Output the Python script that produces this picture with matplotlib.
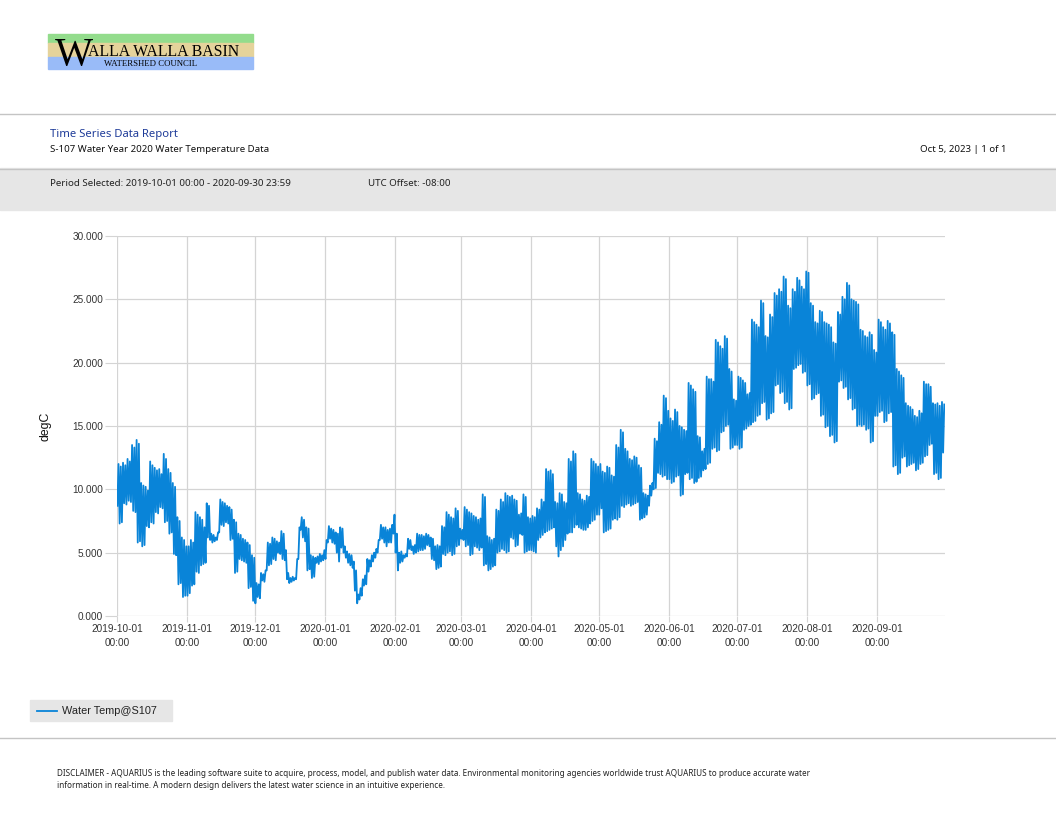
import numpy as np
import pandas as pd
import matplotlib
matplotlib.use("Agg")
import matplotlib.pyplot as plt
import matplotlib.dates as mdates
from matplotlib.patches import Rectangle
from matplotlib.lines import Line2D

# daily (morning low, afternoon high) water temperature, degC
oct_19 = [(8.7, 12.0), (7.3, 11.8), (7.4, 12.1), (8.9, 11.9), (8.8, 12.4), (9.1, 12.2),
          (9.0, 13.5), (8.3, 13.3), (8.2, 13.9), (5.8, 13.6), (5.9, 10.5), (5.5, 10.3),
          (5.6, 10.2), (7.1, 9.9), (7.0, 12.2), (7.4, 11.9), (7.3, 11.7), (8.2, 11.5),
          (8.1, 11.6), (8.6, 11.2), (8.5, 12.8), (7.4, 12.4), (7.5, 11.6), (6.5, 11.3),
          (6.6, 10.5), (4.9, 10.2), (4.8, 7.8), (2.5, 7.5), (2.6, 6.2), (1.5, 6.0), (1.6, 5.5)]
nov_19 = [(1.6, 5.5), (1.8, 6.0), (2.4, 5.8), (2.5, 8.2), (3.5, 8.0), (3.4, 7.8),
          (4.0, 7.6), (4.1, 7.0), (4.2, 8.9), (6.2, 8.7), (6.0, 6.5), (5.8, 6.4),
          (5.9, 6.2), (6.0, 6.6), (6.6, 9.2), (7.2, 9.0), (7.1, 8.9), (7.4, 8.7),
          (7.3, 8.6), (6.0, 8.4), (6.1, 7.6), (3.4, 7.4), (3.5, 6.5), (4.5, 6.4),
          (4.4, 6.1), (4.3, 6.0), (4.2, 5.8), (2.2, 5.6), (2.3, 4.8), (1.2, 4.6)]
dec_19 = [(1.0, 2.6), (1.5, 2.5), (1.4, 3.4), (2.8, 3.3), (2.7, 3.6), (3.6, 5.8),
          (4.0, 5.7), (4.1, 6.2), (4.5, 6.1), (4.4, 5.9), (5.0, 5.8), (4.9, 6.7),
          (4.5, 6.5), (4.4, 5.2), (2.9, 3.4), (2.6, 3.0), (2.7, 3.1), (2.8, 3.0),
          (2.9, 4.5), (4.5, 7.0), (6.8, 7.8), (6.2, 7.6), (5.9, 7.0), (3.6, 6.9),
          (3.7, 4.8), (3.0, 4.7), (3.1, 4.6), (4.2, 4.7), (4.1, 4.9), (4.3, 4.8), (4.4, 5.2)]
jan_20 = [(4.5, 6.0), (5.8, 7.1), (6.1, 6.9), (5.8, 6.8), (5.7, 6.6), (5.0, 6.5),
          (4.3, 7.0), (5.4, 6.9), (5.0, 5.5), (4.6, 5.1), (4.2, 4.9), (4.0, 4.8),
          (3.8, 4.3), (2.0, 3.6), (1.0, 1.7), (1.3, 2.2), (1.6, 2.9), (2.4, 3.2),
          (2.5, 4.5), (3.5, 4.4), (3.9, 4.8), (4.3, 5.0), (4.6, 5.3), (5.0, 6.0),
          (6.0, 7.2), (6.1, 7.0), (5.8, 7.0), (5.5, 6.8), (5.8, 6.9), (5.8, 7.2), (6.5, 8.0)]
feb_20 = [(5.0, 6.5), (3.6, 5.0), (4.2, 5.1), (4.3, 4.8), (4.6, 4.9), (4.7, 6.1),
          (5.3, 6.0), (5.2, 5.5), (4.9, 5.6), (5.0, 6.5), (5.1, 6.4), (5.2, 6.4),
          (5.2, 6.3), (5.3, 6.5), (5.6, 6.4), (5.5, 6.2), (4.5, 6.1), (4.4, 5.5),
          (3.7, 5.6), (3.8, 5.5), (3.9, 7.1), (4.9, 7.0), (4.8, 8.2), (5.0, 8.0),
          (5.1, 7.8), (4.8, 7.7), (4.9, 8.5), (5.5, 8.3), (5.6, 6.9)]
mar_20 = [(6.1, 6.8), (6.0, 8.6), (5.5, 8.4), (5.6, 8.2), (4.8, 8.1), (4.9, 7.9),
          (5.5, 7.8), (5.4, 7.6), (5.2, 7.7), (5.4, 9.6), (4.0, 9.4), (4.1, 6.3),
          (3.6, 6.2), (3.7, 6.0), (3.9, 6.1), (4.0, 8.4), (5.0, 8.3), (5.1, 9.2),
          (5.3, 9.0), (5.2, 9.7), (5.0, 9.5), (5.1, 9.4), (6.2, 9.5), (6.1, 9.2),
          (5.5, 9.1), (5.6, 8.0), (6.5, 8.1), (6.4, 9.6), (5.0, 9.4), (5.1, 7.8), (5.2, 7.7)]
apr_20 = [(5.2, 7.9), (5.1, 7.8), (5.0, 8.5), (6.0, 8.4), (6.2, 9.2), (6.4, 9.0),
          (6.6, 11.6), (6.7, 11.4), (6.8, 11.5), (6.9, 11.2), (7.0, 9.0), (5.5, 8.9),
          (4.7, 9.7), (5.2, 9.6), (5.5, 9.0), (6.0, 8.9), (6.5, 12.4), (6.6, 12.2),
          (6.6, 13.0), (7.0, 12.8), (7.2, 9.7), (7.0, 9.6), (6.9, 9.2), (6.8, 9.1),
          (6.8, 9.5), (7.0, 9.4), (7.3, 12.4), (7.5, 12.2), (7.6, 12.0), (8.0, 11.8)]
may_20 = [(8.0, 12.0), (8.5, 11.4), (6.6, 11.3), (6.7, 11.8), (6.8, 11.7), (6.9, 11.1),
          (7.6, 11.0), (7.7, 13.5), (7.6, 13.3), (7.8, 14.7), (8.7, 14.5), (8.6, 13.2),
          (8.8, 13.0), (8.9, 12.4), (8.7, 12.3), (8.8, 12.6), (8.9, 12.5), (9.0, 11.9),
          (7.6, 11.7), (7.7, 9.7), (7.8, 9.6), (8.0, 9.5), (8.7, 10.3), (9.5, 10.5),
          (10.0, 14.0), (10.1, 13.8), (11.3, 15.3), (11.2, 15.1), (11.0, 17.4), (11.1, 17.2), (10.8, 16.2)]
jun_20 = [(10.8, 15.6), (10.5, 15.4), (10.6, 16.3), (11.0, 16.1), (11.1, 15.0), (9.5, 14.9),
          (9.6, 14.7), (11.2, 14.6), (11.3, 18.4), (10.8, 18.2), (10.9, 17.9), (10.5, 17.7),
          (10.6, 14.2), (10.9, 14.1), (11.0, 13.0), (11.5, 13.2), (11.6, 18.9), (12.0, 18.7),
          (12.1, 18.7), (13.2, 18.5), (13.3, 21.8), (13.0, 21.6), (13.1, 21.3), (14.5, 21.1),
          (14.6, 22.1), (15.0, 21.9), (15.1, 19.5), (13.2, 19.3), (13.3, 17.1), (13.5, 17.0)]
jul_20 = [(13.5, 18.9), (13.2, 18.8), (13.3, 18.6), (14.7, 18.4), (14.8, 17.5), (15.0, 17.6),
          (15.1, 23.4), (15.3, 23.2), (15.4, 23.0), (15.8, 22.8), (15.9, 24.9), (16.8, 24.7),
          (16.9, 22.1), (15.5, 22.0), (15.6, 23.8), (16.0, 23.6), (16.1, 25.5), (18.2, 25.3),
          (18.3, 25.8), (17.6, 25.6), (17.7, 26.8), (16.8, 26.6), (16.9, 24.5), (16.3, 24.3),
          (16.4, 25.8), (19.5, 25.6), (19.6, 26.7), (19.8, 26.5), (19.9, 26.0), (19.2, 25.8), (19.3, 27.2)]
aug_20 = [(18.2, 27.1), (18.3, 24.7), (17.1, 24.5), (17.2, 23.2), (17.5, 23.1), (17.6, 24.1),
          (15.8, 24.0), (15.9, 23.2), (14.9, 23.1), (15.0, 23.0), (14.2, 22.8), (14.3, 21.6),
          (13.7, 21.5), (13.8, 24.0), (18.5, 23.8), (18.6, 25.2), (18.0, 25.0), (18.1, 26.3),
          (17.1, 26.1), (17.2, 25.0), (16.3, 24.9), (16.4, 24.8), (15.0, 24.6), (15.1, 22.6),
          (15.0, 22.5), (15.1, 22.1), (14.7, 22.0), (14.8, 22.4), (13.7, 22.2), (13.8, 21.0), (15.8, 20.8)]
sep_20 = [(15.8, 23.4), (16.1, 23.2), (16.2, 22.8), (15.3, 22.6), (15.4, 23.3), (16.0, 23.1),
          (16.1, 22.4), (11.8, 22.2), (11.9, 19.5), (11.2, 19.3), (11.3, 19.0), (12.5, 18.8),
          (12.6, 16.8), (11.8, 16.6), (11.9, 16.5), (12.0, 16.3), (12.1, 15.8), (11.5, 15.7),
          (11.6, 16.2), (12.0, 16.0), (12.1, 18.5), (12.6, 18.3), (12.7, 18.3), (13.5, 18.1),
          (13.6, 16.8), (11.2, 16.7), (11.3, 16.8), (10.8, 16.6), (10.9, 16.9), (12.9, 16.7)]

months = [oct_19, nov_19, dec_19, jan_20, feb_20, mar_20, apr_20, may_20, jun_20, jul_20, aug_20, sep_20]
temps = [v for m in months for day in m for v in day]
# low around 04:00, high around 16:00 each day
times = pd.date_range("2019-10-01 04:00", periods=len(temps), freq="12h")

y_ticks = [0, 5, 10, 15, 20, 25, 30]

W, H = 1056, 816
BLUE = "#0984d8"
GRID = "#d4d4d4"


def fx(x):
    return x / W


def fy(y):
    return 1 - y / H


fig = plt.figure(figsize=(10.56, 8.16), dpi=100)

# logo bands
for y0, y1, col in [(34, 43.3, "#93dc8c"), (43.3, 57.3, "#e5d39b"), (57.3, 68.5, "#99bbf8")]:
    fig.patches.append(Rectangle((fx(48), fy(y1)), fx(253) - fx(48), (y1 - y0) / H,
                                 transform=fig.transFigure, color=col, zorder=0))
fig.text(fx(55), fy(65.5), "W", family="Liberation Serif", size=29, color="black")
fig.text(fx(88), fy(56.5), "ALLA WALLA BASIN", family="Liberation Serif", size=11.4, color="black")
fig.text(fx(104), fy(66.5), "WATERSHED COUNCIL", family="Liberation Serif", size=6.3, color="black")

# separator lines and header band
fig.add_artist(Line2D([0, 1], [fy(114), fy(114)], transform=fig.transFigure, color="#c4c4c4", lw=1))
fig.patches.append(Rectangle((0, fy(210)), 1, 42 / H, transform=fig.transFigure,
                             color="#e6e6e6", zorder=0))
fig.add_artist(Line2D([0, 1], [fy(168.5), fy(168.5)], transform=fig.transFigure, color="#c4c4c4", lw=1))
fig.add_artist(Line2D([0, 1], [fy(738), fy(738)], transform=fig.transFigure, color="#c4c4c4", lw=1))

hdr = dict(family="Noto Sans", va="center")
fig.text(fx(50), fy(135), "Time Series Data Report", color="#1f3c99", size=8.1, **hdr)
fig.text(fx(50), fy(149.5), "S-107 Water Year 2020 Water Temperature Data", color="#111111", size=6.95, **hdr)
fig.text(fx(1006), fy(149.5), "Oct 5, 2023 | 1 of 1", color="#111111", size=6.95, ha="right", **hdr)
fig.text(fx(50), fy(183), "Period Selected: 2019-10-01 00:00 - 2020-09-30 23:59", color="#222222", size=7.0, **hdr)
fig.text(fx(368), fy(183), "UTC Offset: -08:00", color="#222222", size=7.0, **hdr)

# chart
ax = fig.add_axes([fx(117), fy(616), fx(945) - fx(117), (616 - 236) / H])
ax.plot(times, temps, color=BLUE, lw=1.3, zorder=3)
ax.set_xlim(pd.Timestamp("2019-10-01"), pd.Timestamp("2020-09-30 23:59"))
ax.set_ylim(0, 30)
ax.set_yticks(y_ticks)
ax.yaxis.set_major_formatter(matplotlib.ticker.FormatStrFormatter("%.3f"))
ax.xaxis.set_major_locator(mdates.MonthLocator())
ax.xaxis.set_major_formatter(mdates.DateFormatter("%Y-%m-%d\n%H:%M"))
ax.grid(True, color=GRID, lw=0.9)
ax.set_axisbelow(True)
for s in ax.spines.values():
    s.set_visible(False)
ax.tick_params(axis="y", length=9, color=GRID, pad=1, labelsize=7.2, labelcolor="#333333")
ax.tick_params(axis="x", length=4, color=GRID, pad=2, labelsize=7.2, labelcolor="#333333")
for lab in ax.get_xticklabels() + ax.get_yticklabels():
    lab.set_family("Liberation Sans")
    lab.set_linespacing(1.45)
fig.text(fx(45), fy(426), "degC", rotation=90, ha="center", va="center", size=8.8,
         family="Liberation Sans", color="#111111")

# legend
fig.patches.append(Rectangle((fx(30), fy(721)), fx(172) - fx(30), 21 / H,
                             transform=fig.transFigure, color="#e6e6e6", zorder=0))
fig.add_artist(Line2D([fx(37), fx(57)], [fy(711), fy(711)], transform=fig.transFigure, color=BLUE, lw=1.3))
fig.text(fx(62), fy(711), "Water Temp@S107", va="center", size=7.8, family="Liberation Sans", color="#222222")

# disclaimer
disc = dict(family="Noto Sans", size=5.85, color="#222222", va="center")
fig.text(fx(57), fy(774), "DISCLAIMER - AQUARIUS is the leading software suite to acquire, process, model, and publish water data. "
         "Environmental monitoring agencies worldwide trust AQUARIUS to produce accurate water", **disc)
fig.text(fx(57), fy(786), "information in real-time. A modern design delivers the latest water science in an intuitive experience.", **disc)

fig.savefig("out.png", dpi=100)
